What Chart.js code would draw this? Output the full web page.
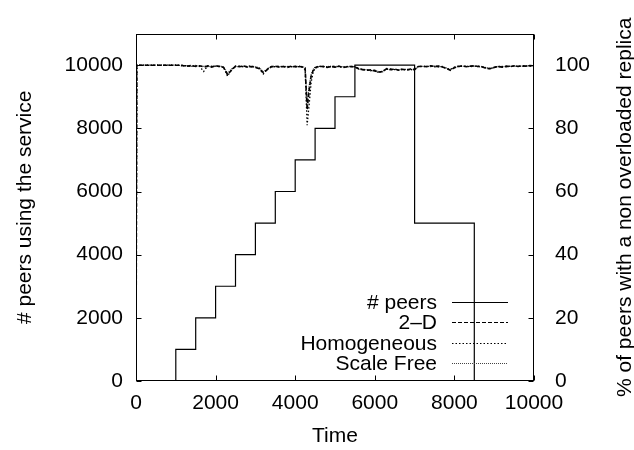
<!DOCTYPE html>
<html>
<head>
<meta charset="utf-8">
<script src="https://cdn.jsdelivr.net/npm/chart.js@4.4.1/dist/chart.umd.min.js"></script>
<style>
  html, body { margin: 0; padding: 0; background: #fff; }
</style>
</head>
<body>
<canvas id="chart" width="634" height="450"></canvas>
<script>
// step series: number of peers using the service
const peerTimes = [0, 1000, 1500, 2000, 2500, 3000, 3500, 4000, 4500, 5000, 5500, 7000, 8500, 10000];
const peerCounts = [0, 1000, 2000, 3000, 4000, 5000, 6000, 7000, 8000, 9000, 10000, 5000, 0, 0];

// sample times for the % series
const times = [0, 20,
  100, 200, 300, 400, 500, 600, 700, 800, 900, 1000,
  1100, 1200, 1300, 1400, 1500, 1600, 1700, 1800, 1900, 2000,
  2100, 2200, 2300, 2400, 2500, 2600, 2700, 2800, 2900, 3000,
  3100, 3200, 3300, 3400, 3500, 3600, 3700, 3800, 3900, 4000,
  4100, 4200, 4250, 4300, 4350, 4400, 4450, 4500,
  4600, 4700, 4800, 4900, 5000, 5100, 5200, 5300, 5400, 5500,
  5600, 5700, 5800, 5900, 6000, 6100, 6200, 6300, 6400, 6500,
  6600, 6700, 6800, 6900, 7000, 7100, 7200, 7300, 7400, 7500,
  7600, 7700, 7800, 7900, 8000, 8100, 8200, 8300, 8400, 8500,
  8600, 8700, 8800, 8900, 9000, 9100, 9200, 9300, 9400, 9500,
  9600, 9700, 9800, 9900, 10000];

const twoD = [0, 100,
  100, 100, 100, 100, 100, 100, 100, 100, 100, 100,
  100, 99.8, 99.7, 99.9, 99.6, 99.8, 99.5, 99.7, 99.4, 99.8,
  99.6, 99.3, 97.0, 98.4, 99.7, 99.5, 99.8, 99.4, 99.6, 99.3,
  98.9, 97.6, 98.6, 99.5, 99.7, 99.4, 99.6, 99.3, 99.7, 99.5,
  99.6, 99.4, 99.0, 86.0, 92.0, 96.5, 98.3, 99.2,
  99.7, 99.5, 99.3, 99.6, 99.4, 99.7, 99.2, 99.5, 99.6, 99.4,
  98.8, 98.6, 98.4, 98.5, 98.2, 97.8, 98.0, 98.9, 98.6, 98.8,
  98.4, 98.7, 98.5, 98.8, 98.6, 99.6, 99.7, 99.5, 99.8, 99.6,
  99.7, 99.4, 99.0, 98.4, 99.2, 99.6, 99.8, 99.5, 99.7, 99.8,
  99.6, 99.4, 99.0, 98.9, 99.3, 99.6, 99.4, 99.7, 99.5, 99.8,
  99.6, 99.8, 99.7, 99.9, 99.8];

const homogeneous = [0, 100,
  100, 100, 100, 100, 100, 100, 100, 100, 100, 100,
  100, 99.9, 99.8, 99.7, 99.9, 99.6, 98.0, 99.8, 99.6, 99.7,
  99.5, 99.4, 96.5, 98.6, 99.6, 99.7, 99.5, 99.6, 99.8, 99.4,
  99.0, 97.2, 98.8, 99.6, 99.5, 99.7, 99.4, 99.6, 99.5, 99.7,
  99.5, 99.3, 98.5, 81.0, 87.5, 94.5, 97.8, 99.0,
  99.6, 99.7, 99.4, 99.5, 99.7, 99.5, 99.4, 99.6, 99.5, 99.6,
  98.9, 98.7, 98.5, 98.3, 98.4, 97.6, 98.2, 98.7, 98.8, 98.6,
  98.6, 98.8, 98.4, 98.6, 98.8, 99.7, 99.5, 99.6, 99.7, 99.5,
  99.5, 99.6, 98.9, 98.6, 99.4, 99.7, 99.6, 99.7, 99.5, 99.7,
  99.7, 99.5, 99.1, 98.8, 99.4, 99.5, 99.6, 99.5, 99.7, 99.6,
  99.7, 99.6, 99.8, 99.7, 99.8];

const scaleFree = [0, 100,
  100, 100, 100, 100, 100, 100, 100, 100, 100, 100,
  99.9, 99.7, 99.8, 99.6, 99.8, 99.7, 99.6, 99.5, 99.7, 99.6,
  99.7, 99.5, 97.5, 98.8, 99.5, 99.6, 99.7, 99.5, 99.4, 99.5,
  99.2, 97.9, 98.9, 99.4, 99.6, 99.5, 99.7, 99.5, 99.6, 99.4,
  99.7, 99.5, 99.2, 88.0, 93.5, 97.0, 98.6, 99.4,
  99.5, 99.6, 99.5, 99.7, 99.3, 99.6, 99.5, 99.3, 99.7, 99.5,
  98.7, 98.5, 98.6, 98.2, 98.3, 98.0, 97.9, 98.8, 98.5, 98.7,
  98.5, 98.6, 98.7, 98.5, 98.7, 99.5, 99.6, 99.7, 99.5, 99.7,
  99.6, 99.5, 99.1, 98.7, 99.3, 99.5, 99.7, 99.6, 99.6, 99.7,
  99.5, 99.6, 99.2, 99.0, 99.2, 99.7, 99.5, 99.6, 99.6, 99.7,
  99.8, 99.7, 99.6, 99.8, 99.9];

const xTicks = [0, 2000, 4000, 6000, 8000, 10000];
const yTicks = [0, 2000, 4000, 6000, 8000, 10000];
const y2Ticks = [0, 20, 40, 60, 80, 100];

const FONT = '"Liberation Sans", Arial, Helvetica, sans-serif';
const FSIZE = 21;
Chart.defaults.font.family = FONT;
Chart.defaults.font.size = FSIZE;
Chart.defaults.color = '#000';

const rightTitle = '% of peers with a non overloaded replica';

function pts(xs, ys) {
  return xs.map((x, i) => ({ x: x, y: ys[i] }));
}

// plain numbers, no thousands separator
const plain = v => String(v);

// frame with inward ticks, right-hand title and gnuplot-style key
const framePlugin = {
  id: 'frame',
  afterDraw(chart) {
    const { ctx, chartArea: a, scales } = chart;
    const L = Math.round(a.left) + 0.5, R = Math.round(a.right) - 0.5;
    const T = Math.round(a.top) + 0.5, B = Math.round(a.bottom) - 0.5;
    const len = 5;
    ctx.save();
    ctx.strokeStyle = '#000';
    ctx.lineWidth = 1;
    ctx.setLineDash([]);
    ctx.strokeRect(L, T, R - L, B - T);
    ctx.beginPath();
    xTicks.forEach(v => {
      const x = Math.round(scales.x.getPixelForValue(v)) + 0.5;
      ctx.moveTo(x, B); ctx.lineTo(x, B - len);
      ctx.moveTo(x, T); ctx.lineTo(x, T + len);
    });
    yTicks.forEach(v => {
      const y = Math.round(scales.y.getPixelForValue(v)) + 0.5;
      ctx.moveTo(L, y); ctx.lineTo(L + len, y);
    });
    y2Ticks.forEach(v => {
      const y = Math.round(scales.y2.getPixelForValue(v)) + 0.5;
      ctx.moveTo(R, y); ctx.lineTo(R - len, y);
    });
    ctx.stroke();

    ctx.fillStyle = '#000';
    ctx.font = FSIZE + 'px ' + FONT;

    // key, text right-aligned with the line sample after it
    ctx.textAlign = 'right';
    ctx.textBaseline = 'middle';
    chart.data.datasets.forEach((ds, i) => {
      const y = Math.round(302 + i * 20.4) + 0.5;
      ctx.fillText(ds.label, 437, y + 1);
      ctx.beginPath();
      ctx.strokeStyle = ds.borderColor;
      ctx.lineWidth = 1;
      ctx.setLineDash(ds.borderDash || []);
      ctx.moveTo(452, y);
      ctx.lineTo(508, y);
      ctx.stroke();
    });

    // right axis title reads bottom to top like the left one
    ctx.setLineDash([]);
    ctx.textAlign = 'center';
    ctx.translate(625, (a.top + a.bottom) / 2);
    ctx.rotate(-Math.PI / 2);
    ctx.fillText(rightTitle, 0, 0);
    ctx.restore();
  }
};

new Chart(document.getElementById('chart'), {
  type: 'line',
  data: {
    datasets: [
      {
        label: '# peers',
        data: pts(peerTimes, peerCounts),
        yAxisID: 'y',
        stepped: 'before',
        borderColor: '#000',
        borderWidth: 1.2,
        pointRadius: 0,
        fill: false
      },
      {
        label: '2\u2013D',
        data: pts(times, twoD),
        yAxisID: 'y2',
        borderColor: '#000',
        borderWidth: 1.6,
        borderDash: [4, 2],
        pointRadius: 0,
        tension: 0,
        fill: false
      },
      {
        label: 'Homogeneous',
        data: pts(times, homogeneous),
        yAxisID: 'y2',
        borderColor: '#000',
        borderWidth: 1.3,
        borderDash: [1.5, 2],
        pointRadius: 0,
        tension: 0,
        fill: false
      },
      {
        label: 'Scale Free',
        data: pts(times, scaleFree),
        yAxisID: 'y2',
        borderColor: '#444',
        borderWidth: 1.2,
        borderDash: [1, 1],
        pointRadius: 0,
        tension: 0,
        fill: false
      }
    ]
  },
  options: {
    responsive: false,
    animation: false,
    layout: { padding: { top: 22, left: 0, right: 0, bottom: 0 } },
    plugins: {
      legend: { display: false },
      tooltip: { enabled: false }
    },
    scales: {
      x: {
        type: 'linear',
        min: 0,
        max: 10000,
        grid: { display: false, drawTicks: false },
        border: { display: false },
        afterBuildTicks: s => { s.ticks = xTicks.map(v => ({ value: v })); },
        afterFit: s => { s.height = 69; },
        ticks: { padding: 10, maxRotation: 0, autoSkip: false, callback: plain },
        title: { display: true, text: 'Time', padding: { top: 0, bottom: 1 } }
      },
      y: {
        position: 'left',
        min: 0,
        max: 11000,
        grid: { display: false, drawTicks: false },
        border: { display: false },
        afterBuildTicks: s => { s.ticks = yTicks.map(v => ({ value: v })); },
        afterFit: s => { s.width = 136; },
        ticks: { padding: 13, autoSkip: false, callback: plain },
        title: { display: true, text: '# peers using the service', padding: { top: 13, bottom: 0 } }
      },
      y2: {
        position: 'right',
        min: 0,
        max: 110,
        grid: { display: false, drawTicks: false },
        border: { display: false },
        afterBuildTicks: s => { s.ticks = y2Ticks.map(v => ({ value: v })); },
        afterFit: s => { s.width = 100; },
        ticks: { padding: 21, autoSkip: false, callback: plain }
      }
    }
  },
  plugins: [framePlugin]
});
</script>
</body>
</html>
